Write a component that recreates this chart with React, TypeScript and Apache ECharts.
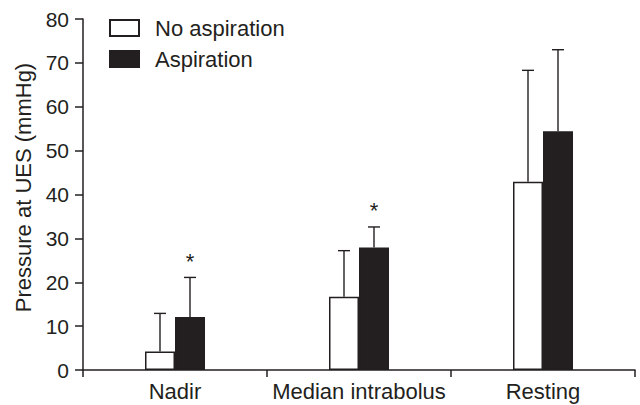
import React, { useEffect, useRef } from "react";
import * as echarts from "echarts";

const categories = ["Nadir", "Median intrabolus", "Resting"];
const seriesNames = ["No aspiration", "Aspiration"];
const noAspMean = [4.2, 16.7, 42.9];
const noAspSD = [8.7, 10.5, 25.4];
const aspMean = [12.1, 27.9, 54.4];
const aspSD = [9.0, 4.7, 18.6];
const significance = ["*", "*", ""];
const yTicks = { min: 0, max: 80, interval: 10 };

const INK = "#231f20";
const FONT = "'Liberation Sans', Arial, Helvetica, sans-serif";
const BAR_W = 30;
const CAP_W = 12;

export default function App() {
  const ref = useRef<HTMLDivElement>(null);

  useEffect(() => {
    if (!ref.current) return;
    const chart = echarts.init(ref.current, undefined, { renderer: "svg" });

    const errData: number[][] = [];
    categories.forEach((_, i) => {
      errData.push([i, noAspMean[i], noAspSD[i], 0]);
      errData.push([i, aspMean[i], aspSD[i], 1]);
    });

    const option: any = {
      animation: false,
      backgroundColor: "#ffffff",
      textStyle: { fontFamily: FONT, color: INK },
      grid: { left: 83, right: 5, top: 19, bottom: 35, containLabel: false },
      legend: {
        data: seriesNames,
        orient: "vertical",
        left: 104,
        top: 12,
        itemWidth: 29,
        itemHeight: 16,
        itemGap: 9,
        icon: "rect",
        selectedMode: false,
        textStyle: {
          fontFamily: FONT,
          fontSize: 22,
          color: INK,
          padding: [0, 0, 0, 11],
        },
      },
      xAxis: {
        type: "category",
        data: categories,
        boundaryGap: true,
        axisLine: { show: true, lineStyle: { color: INK, width: 1.5 } },
        axisTick: { show: true, length: 7, lineStyle: { color: INK, width: 1.5 } },
        axisLabel: { color: INK, fontSize: 22, fontFamily: FONT, margin: 10, interval: 0 },
        splitLine: { show: false },
      },
      yAxis: {
        type: "value",
        min: yTicks.min,
        max: yTicks.max,
        interval: yTicks.interval,
        name: "Pressure at UES (mmHg)",
        nameLocation: "middle",
        nameGap: 44,
        nameTextStyle: { color: INK, fontSize: 22, fontFamily: FONT, padding: [0, 0, 0, 14] },
        axisLine: { show: true, lineStyle: { color: INK, width: 1.5 } },
        axisTick: { show: true, length: 8, lineStyle: { color: INK, width: 1.5 } },
        axisLabel: { color: INK, fontSize: 21, fontFamily: FONT, margin: 14 },
        splitLine: { show: false },
      },
      series: [
        {
          name: seriesNames[0],
          type: "bar",
          data: noAspMean,
          barWidth: BAR_W,
          barGap: "0%",
          itemStyle: { color: "#ffffff", borderColor: INK, borderWidth: 1.5 },
        },
        {
          name: seriesNames[1],
          type: "bar",
          data: aspMean,
          barWidth: BAR_W,
          barGap: "0%",
          itemStyle: { color: INK, borderColor: INK, borderWidth: 1.5 },
        },
        {
          type: "custom",
          name: "error",
          data: errData,
          z: 5,
          renderItem: (params: any, api: any) => {
            const ci = api.value(0);
            const mean = api.value(1);
            const sd = api.value(2);
            const grp = api.value(3);
            const center = api.coord([ci, 0])[0];
            const x = center + (grp === 0 ? -1 : 1) * (BAR_W / 2);
            const yBase = api.coord([ci, mean])[1];
            const yTop = api.coord([ci, mean + sd])[1];
            const children: any[] = [
              {
                type: "line",
                shape: { x1: x, y1: yBase, x2: x, y2: yTop },
                style: { stroke: INK, lineWidth: 1.4 },
              },
              {
                type: "line",
                shape: { x1: x - CAP_W / 2, y1: yTop, x2: x + CAP_W / 2, y2: yTop },
                style: { stroke: INK, lineWidth: 1.4 },
              },
            ];
            if (grp === 1 && significance[ci]) {
              children.push({
                type: "text",
                style: {
                  text: significance[ci],
                  x: x,
                  y: yTop - 16,
                  align: "center",
                  verticalAlign: "middle",
                  fontSize: 22,
                  fontFamily: FONT,
                  fill: INK,
                },
              });
            }
            return { type: "group", children };
          },
        },
      ],
    };

    chart.setOption(option);
    return () => chart.dispose();
  }, []);

  return (
    <div
      ref={ref}
      style={{ position: "fixed", left: 0, top: 0, width: 640, height: 405 }}
    />
  );
}
